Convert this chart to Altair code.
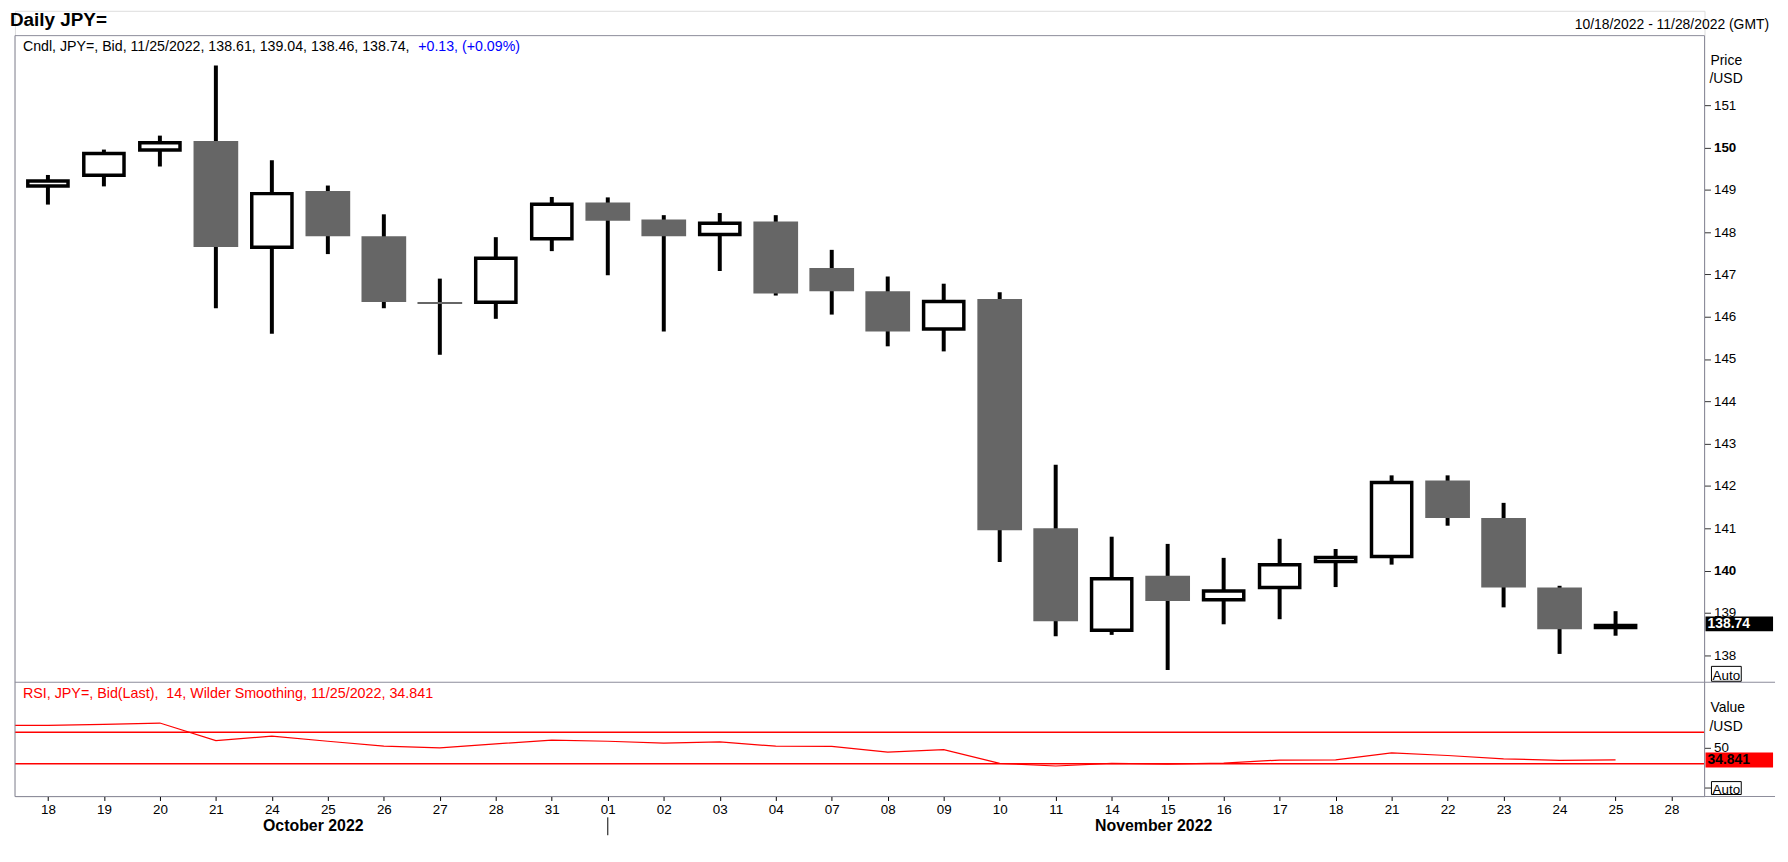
import json
import altair as alt
import pandas as pd

# ---------------- data ----------------
day_labels = ["18", "19", "20", "21", "24", "25", "26", "27", "28", "31",
              "01", "02", "03", "04", "07", "08", "09", "10", "11", "14",
              "15", "16", "17", "18", "21", "22", "23", "24", "25", "28"]
month_labels = ["October 2022", "November 2022"]
month_pos = [4.74, 19.75]
month_divider = [10]

idx = list(range(29))
open_ = [149.05, 149.30, 149.90, 150.15, 147.60, 148.97, 147.90, 146.35, 146.30, 147.80,
         148.70, 148.30, 147.90, 148.25, 147.15, 146.60, 145.67, 146.42, 141.00, 138.55,
         139.88, 139.27, 139.56, 140.17, 140.29, 142.13, 141.24, 139.60, 138.61]
high = [149.35, 149.95, 150.28, 151.94, 149.70, 149.10, 148.42, 146.90, 147.88, 148.83,
        148.82, 148.40, 148.45, 148.40, 147.58, 146.95, 146.78, 146.58, 142.50, 140.80,
        140.63, 140.30, 140.75, 140.51, 142.25, 142.25, 141.60, 139.64, 139.04]
low = [148.65, 149.08, 149.55, 146.20, 145.60, 147.48, 146.20, 145.10, 145.95, 147.55,
       146.98, 145.65, 147.08, 146.50, 146.05, 145.30, 145.18, 140.20, 138.45, 138.48,
       137.65, 138.73, 138.85, 139.61, 140.14, 141.06, 139.13, 138.03, 138.46]
close = [149.25, 149.90, 150.15, 147.65, 148.95, 147.90, 146.35, 146.30, 147.42, 148.70,
         148.27, 147.90, 148.25, 146.55, 146.60, 145.65, 146.40, 140.95, 138.80, 139.85,
         139.28, 139.56, 140.18, 140.35, 142.12, 141.24, 139.60, 138.61, 138.74]

rsi_idx = list(range(-1, 29))
rsi_vals = [78.5, 78.8, 80.1, 81.7, 59.4, 65.0, 58.6, 52.3, 50.2, 55.2,
            59.9, 58.6, 56.1, 57.8, 52.3, 52.0, 44.8, 48.0, 30.4, 27.1,
            30.4, 29.6, 30.9, 34.7, 35.0, 43.9, 40.5, 36.3, 34.3, 34.841]
rsi_levels = [70, 30]
price_ticks = list(range(138, 152))

# ---------------- layout constants ----------------
FONT = "Liberation Sans"
W, H = 1701, 791
X_DOM = [-0.5, 29.5]
P_DOM = [134.66, 153.23]
R_DOM = [-11.6, 986.5]
FRAME = "#8c8c9a"
PX_PER_PRICE = H / (P_DOM[1] - P_DOM[0])
PX_PER_RSI = H / (R_DOM[1] - R_DOM[0])

df = pd.DataFrame({"i": idx, "open": open_, "high": high, "low": low, "close": close})
rsi_df = pd.DataFrame({"i": rsi_idx, "rsi": rsi_vals})
one = pd.DataFrame({"k": [0]})

XS = alt.Scale(domain=X_DOM, nice=False, zero=False)
PS = alt.Scale(domain=P_DOM, nice=False, zero=False)
RS = alt.Scale(domain=R_DOM, nice=False, zero=False)

X_AXIS = alt.Axis(values=list(range(30)), labelExpr=json.dumps(day_labels) + "[datum.value]",
                  title=None, domain=False, grid=False, tickSize=4, tickColor="#000",
                  labelPadding=2, labelFont=FONT, labelFontSize=13.5, labelColor="#000",
                  labelOverlap=False, labelFlush=False)
P_AXIS = alt.Axis(orient="right", values=price_ticks, title=None, domain=False, grid=False,
                  tickSize=6, tickColor="#333", labelPadding=3, labelFont=FONT,
                  labelFontSize=13.5, labelColor="#000", labelOverlap=False, labelFlush=False,
                  labelFontWeight={"condition": {"test": "datum.value % 10 === 0", "value": "bold"},
                                   "value": "normal"})
R_AXIS = alt.Axis(orient="right", values=[0, 50], labelExpr="datum.value == 50 ? '50' : ''",
                  title=None, domain=False, grid=False, tickSize=6, tickColor="#333",
                  labelPadding=3, labelFont=FONT, labelFontSize=13.5, labelColor="#000",
                  labelOverlap=False, labelFlush=False)

X = alt.X("i:Q", scale=XS, axis=X_AXIS)

# ---------------- price panel ----------------
base = alt.Chart(df)
wicks = base.mark_rule(color="#000", strokeWidth=4).encode(
    x=X, y=alt.Y("low:Q", scale=PS, axis=P_AXIS), y2="high:Q")
down = base.transform_filter("datum.close < datum.open").mark_bar(
    size=45, color="#666666").encode(
    x=X, y=alt.Y("open:Q", scale=PS, axis=P_AXIS), y2="close:Q")
# hollow (rising) candles: black body with a white inner body inset by the border width
up_outer = base.transform_filter("datum.close >= datum.open").mark_bar(
    size=44, color="#000").encode(
    x=X, y=alt.Y("open:Q", scale=PS, axis=P_AXIS), y2="close:Q")
inset = 3.5 / PX_PER_PRICE
up_inner = base.transform_filter("datum.close >= datum.open").transform_calculate(
    lo=f"datum.open + {inset}", hi=f"datum.close - {inset}").transform_filter(
    "datum.hi > datum.lo").mark_bar(size=37, color="#fff").encode(
    x=X, y=alt.Y("lo:Q", scale=PS, axis=P_AXIS), y2="hi:Q")

p_half = 7.5 / PX_PER_PRICE
last_df = pd.DataFrame({"v": [close[-1]]})
last_box = alt.Chart(last_df).transform_calculate(
    top=f"datum.v + {p_half}", bot=f"datum.v - {p_half}").mark_rect(color="#000").encode(
    x=alt.value(1702), x2=alt.value(1770),
    y=alt.Y("top:Q", scale=PS, axis=P_AXIS), y2="bot:Q")
last_txt = alt.Chart(last_df).mark_text(
    align="left", baseline="middle", font=FONT, fontSize=14, fontWeight="bold", color="#fff").encode(
    x=alt.value(1704), y=alt.Y("v:Q", scale=PS, axis=P_AXIS), text=alt.Text("v:Q", format=".2f"))

price = alt.layer(wicks, down, up_outer, up_inner, last_box, last_txt)

# ---------------- RSI panel ----------------
levels = alt.Chart(pd.DataFrame({"lvl": rsi_levels})).mark_rule(
    color="#ff0000", strokeWidth=1.5).encode(
    x=alt.value(0), x2=alt.value(W), y=alt.Y("lvl:Q", scale=RS, axis=R_AXIS))
rsi_line = alt.Chart(rsi_df).mark_line(color="#ff0000", strokeWidth=1.2, clip=True).encode(
    x=X, y=alt.Y("rsi:Q", scale=RS, axis=R_AXIS))
r_half = 7.5 / PX_PER_RSI
rlast_df = pd.DataFrame({"v": [rsi_vals[-1]]})
rsi_box = alt.Chart(rlast_df).transform_calculate(
    top=f"datum.v + {r_half}", bot=f"datum.v - {r_half}").mark_rect(color="#ff0000").encode(
    x=alt.value(1702), x2=alt.value(1770),
    y=alt.Y("top:Q", scale=RS, axis=R_AXIS), y2="bot:Q")
rsi_txt = alt.Chart(rlast_df).mark_text(
    align="left", baseline="middle", font=FONT, fontSize=14, fontWeight="bold", color="#000").encode(
    x=alt.value(1704), y=alt.Y("v:Q", scale=RS, axis=R_AXIS), text=alt.Text("v:Q", format=".3f"))

rsi = alt.layer(levels, rsi_line, rsi_box, rsi_txt)


# ---------------- decorations ----------------
def rule(x, x2, y, y2, color=FRAME, sw=1):
    return alt.Chart(one).mark_rule(color=color, strokeWidth=sw).encode(
        x=alt.value(x), x2=alt.value(x2), y=alt.value(y), y2=alt.value(y2))


def txt(s, x, y, size=14, color="#000", weight="normal", align="left"):
    return alt.Chart(one).mark_text(
        text=s, align=align, baseline="alphabetic", font=FONT, fontSize=size,
        fontWeight=weight, color=color).encode(x=alt.value(x), y=alt.value(y))


def box(x, x2, y, y2):
    return alt.Chart(one).mark_rect(fill="#fff", stroke="#000", strokeWidth=1).encode(
        x=alt.value(x), x2=alt.value(x2), y=alt.value(y), y2=alt.value(y2))


frames = [
    rule(0, W, 25, 25),          # top of price panel
    rule(0, 0, 25, H),           # left frame
    rule(W, W, 25, H),           # right frame / axis line
    rule(0, 1772, 676, 676),     # separator price / RSI
    rule(0, 1772, H, H),         # bottom
]

chg = close[-1] - close[-2]
pct = chg / close[-2] * 100
head_black = (f"Cndl, JPY=, Bid, 11/25/2022, {open_[-1]:.2f}, {high[-1]:.2f}, "
              f"{low[-1]:.2f}, {close[-1]:.2f},")
head_blue = f"{chg:+.2f}, ({pct:+.2f}%)"
rsi_head = (f"RSI, JPY=, Bid(Last),\u00a0 14, Wilder Smoothing, 11/25/2022, "
            f"{rsi_vals[-1]:.3f}")

texts = [
    txt("Daily JPY=", -5, 15, size=19, weight="bold"),
    txt("10/18/2022 - 11/28/2022 (GMT)", 1766, 18, size=14, align="right"),
    txt(head_black, 8, 40, size=14.3),
    txt(head_blue, 406, 40, size=14.3, color="#0000ff"),
    txt(rsi_head, 8, 692, size=14.4, color="#ff0000"),
    txt("Price", 1707, 55, size=14),
    txt("/USD", 1706, 73, size=14),
    txt("Value", 1707, 706, size=14),
    txt("/USD", 1706, 725, size=14),
    box(1708, 1738, 660, 675),
    txt("Auto", 1723, 673.5, size=13.5, align="center"),
    box(1708, 1738, 776, 789),
    txt("Auto", 1723, 788, size=13.5, align="center"),
]

months = alt.Chart(pd.DataFrame({"pos": month_pos, "label": month_labels})).mark_text(
    align="center", baseline="alphabetic", font=FONT, fontSize=16, fontWeight="bold",
    color="#000").encode(
    x=alt.X("pos:Q", scale=XS, axis=X_AXIS), y=alt.value(826), text="label:N")
divider = alt.Chart(pd.DataFrame({"i": month_divider})).mark_rule(
    color="#000", strokeWidth=1).encode(x=X, y=alt.value(812), y2=alt.value(830))

chart = alt.layer(price, rsi, *frames, *texts, months, divider).resolve_scale(
    y="independent"
).properties(
    width=W, height=H,
    padding={"left": 2, "top": 0, "right": 4, "bottom": 4},
    background="#ffffff",
).configure_view(stroke=None).configure(font=FONT)

chart.save("out.html", embed_options={"renderer": "svg", "actions": False})
